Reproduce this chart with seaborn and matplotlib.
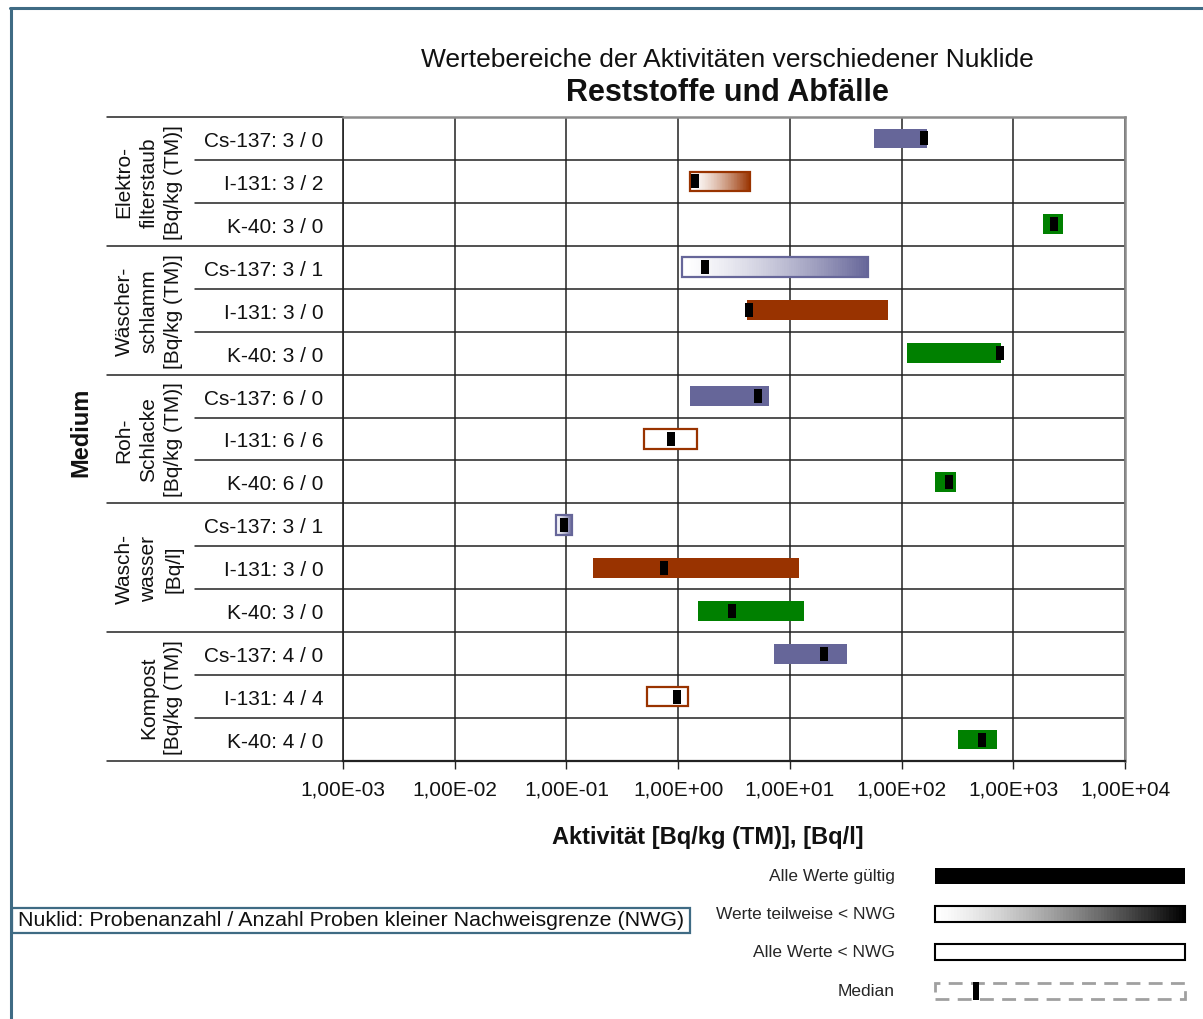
import numpy as np
import pandas as pd
import matplotlib
matplotlib.use("Agg")
import matplotlib.pyplot as plt
from matplotlib.patches import Rectangle
from matplotlib.lines import Line2D
from matplotlib.colors import to_rgb
import seaborn as sns


# --- data (values in Bq/kg (TM) or Bq/l) ---
groups = [
    "Elektro-\nfilterstaub\n[Bq/kg (TM)]",
    "Wäscher-\nschlamm\n[Bq/kg (TM)]",
    "Roh-\nSchlacke\n[Bq/kg (TM)]",
    "Wasch-\nwasser\n[Bq/l]",
    "Kompost\n[Bq/kg (TM)]",
]
nuclides = ["Cs-137", "I-131", "K-40"]
n_samples = [3, 3, 3, 3, 3, 3, 6, 6, 6, 3, 3, 3, 4, 4, 4]
n_below = [0, 2, 0, 1, 0, 0, 0, 6, 0, 1, 0, 0, 0, 4, 0]
val_min = [57, 1.29, 1850, 1.08, 4.1, 111, 1.29, 0.49, 200, 0.080, 0.172, 1.51, 7.2, 0.53, 321]
val_max = [168, 4.4, 2790, 50, 76, 782, 6.56, 1.48, 310, 0.112, 12.0, 13.4, 32.7, 1.23, 721]
val_median = [160, 1.42, 2320, 1.75, 4.3, 762, 5.2, 0.86, 265, 0.095, 0.75, 3.05, 20.4, 0.98, 526]
x_ticks = [1e-3, 1e-2, 1e-1, 1e0, 1e1, 1e2, 1e3, 1e4]

nuclide_colors = {"Cs-137": "#666699", "I-131": "#993300", "K-40": "#008000"}

legend_labels = ["Alle Werte gültig", "Werte teilweise < NWG", "Alle Werte < NWG", "Median"]

W, H = 1203, 1020


def px(x, y):
    """pixel position (from top-left) -> figure fraction"""
    return x / W, 1 - y / H


def build_table():
    rows = []
    for i in range(len(n_samples)):
        nuc = nuclides[i % 3]
        rows.append({
            "row": i,
            "nuclide": nuc,
            "label": f"{nuc}: {n_samples[i]} / {n_below[i]}",
            "lo": val_min[i],
            "hi": val_max[i],
            "median": val_median[i],
            "state": "full" if n_below[i] == 0 else ("none" if n_below[i] == n_samples[i] else "partial"),
        })
    return pd.DataFrame(rows)


def gradient_bar(ax, y, lo, hi, color, height, n=80):
    edges = np.geomspace(lo, hi, n + 1)
    rgb = np.array(to_rgb(color))
    for k in range(n):
        frac = ((k + 0.5) / n) ** 1.4
        c = (1 - frac) * np.ones(3) + frac * rgb
        ax.barh(y, edges[k + 1] - edges[k], left=edges[k], height=height,
                color=c, linewidth=0, zorder=2)


def draw_bars(ax, df, height=0.46):
    for _, r in df.iterrows():
        col = nuclide_colors[r["nuclide"]]
        if r["state"] == "full":
            ax.barh(r["row"], r["hi"] - r["lo"], left=r["lo"], height=height,
                    color=col, linewidth=0, zorder=2)
        else:
            if r["state"] == "partial":
                gradient_bar(ax, r["row"], r["lo"], r["hi"], col, height)
            else:
                ax.barh(r["row"], r["hi"] - r["lo"], left=r["lo"], height=height,
                        color="white", linewidth=0, zorder=2)
            ax.barh(r["row"], r["hi"] - r["lo"], left=r["lo"], height=height,
                    fill=False, edgecolor=col, linewidth=1.6, zorder=3)


def draw_table(ax):
    tr = ax.get_yaxis_transform()
    n = len(n_samples)
    for b in np.arange(-0.5, n, 1.0):
        is_group = (b + 0.5) % 3 == 0
        x0 = -0.302 if is_group else -0.189
        ax.add_line(Line2D([x0, 0], [b, b], transform=tr, color="#222222",
                           lw=1.1, clip_on=False))
    for g, name in enumerate(groups):
        ax.text(-0.2046, 3 * g + 1, name, transform=tr, rotation=90,
                ha="right", va="center", multialignment="center",
                fontsize=15, linespacing=1.38, color="#111111")


def draw_legend(fig):
    x0, x1 = 935, 1185
    ys = [877, 915, 953, 992]
    for lab, y in zip(legend_labels, ys):
        fig.text(*px(895, y), lab, ha="right", va="center", fontsize=12.5)
    hb = 16
    # all valid
    fig.add_artist(Rectangle(px(x0, ys[0] + hb / 2), (x1 - x0) / W, hb / H,
                             transform=fig.transFigure, color="black", lw=0))
    # partially below detection limit
    n = 80
    for k in range(n):
        frac = ((k + 0.5) / n) ** 1.3
        xa = x0 + (x1 - x0) * k / n
        fig.add_artist(Rectangle(px(xa, ys[1] + hb / 2), (x1 - x0) / n / W + 0.0004, hb / H,
                                 transform=fig.transFigure, color=str(1 - frac), lw=0))
    fig.add_artist(Rectangle(px(x0, ys[1] + hb / 2), (x1 - x0) / W, hb / H,
                             transform=fig.transFigure, fill=False, ec="black", lw=1.5))
    # all below detection limit
    fig.add_artist(Rectangle(px(x0, ys[2] + hb / 2), (x1 - x0) / W, hb / H,
                             transform=fig.transFigure, fc="white", ec="black", lw=1.5))
    # median
    fig.add_artist(Rectangle(px(x0, ys[3] + hb / 2), (x1 - x0) / W, hb / H,
                             transform=fig.transFigure, fill=False, ec="#a0a0a0",
                             lw=2, ls=(0, (5, 3))))
    fig.add_artist(Rectangle(px(973, ys[3] + 9), 6 / W, 18 / H,
                             transform=fig.transFigure, color="black", lw=0))


def main():
    sns.set_theme(style="white")
    plt.rcParams["font.family"] = ["Liberation Sans", "DejaVu Sans"]

    df = build_table()

    fig = plt.figure(figsize=(W / 100, H / 100), dpi=100)
    l, b = px(343, 762)
    r, t = px(1125, 118)
    ax = fig.add_axes([l, b, r - l, t - b])

    ax.set_xscale("log")
    ax.set_xlim(x_ticks[0], x_ticks[-1])
    ax.set_ylim(len(n_samples) - 0.5, -0.5)
    ax.set_axisbelow(True)

    draw_bars(ax, df)

    # median markers
    rect_marker = [(-1, -2), (1, -2), (1, 2), (-1, 2), (-1, -2)]
    sns.scatterplot(data=df, x="median", y="row", ax=ax, marker=rect_marker,
                    s=115, color="black", linewidth=0, zorder=4, legend=False)

    ax.set_xticks(x_ticks)
    ax.set_xticklabels([f"{v:.2E}".replace(".", ",") for v in x_ticks])
    ax.xaxis.set_minor_locator(plt.NullLocator())
    ax.set_yticks(df["row"])
    ax.set_yticklabels(df["label"])
    ax.set_yticks(np.arange(-0.5, len(n_samples), 1.0), minor=True)
    ax.tick_params(axis="x", which="major", length=6, width=1, color="#222222",
                   direction="out", bottom=True, labelsize=15, pad=7.5, labelcolor="#111111")
    ax.tick_params(axis="y", which="both", length=0, labelsize=15, pad=14, labelcolor="#111111")
    ax.grid(True, axis="x", which="major", color="#222222", lw=1.1)
    ax.grid(True, axis="y", which="minor", color="#222222", lw=1.1)
    ax.set_xlabel("")
    ax.set_ylabel("")

    for side in ["top", "right"]:
        ax.spines[side].set_color("#8c8c8c")
        ax.spines[side].set_linewidth(1.8)
    ax.spines["left"].set_color("#222222")
    ax.spines["left"].set_linewidth(1.2)
    ax.spines["bottom"].set_color("#222222")
    ax.spines["bottom"].set_linewidth(1.6)

    draw_table(ax)

    # titles and axis labels
    fig.text(*px(727, 60), "Wertebereiche der Aktivitäten verschiedener Nuklide",
             ha="center", va="center", fontsize=19, color="#111111")
    fig.text(*px(727, 93), "Reststoffe und Abfälle", ha="center", va="center",
             fontsize=22, fontweight="bold", color="#111111")
    fig.text(*px(708, 838), "Aktivität [Bq/kg (TM)], [Bq/l]", ha="center", va="center",
             fontsize=17, fontweight="bold", color="#111111")
    fig.text(*px(81, 432), "Medium", rotation=90, ha="center", va="center",
             fontsize=17, fontweight="bold", color="#111111")

    # note box
    fig.add_artist(Rectangle(px(12, 934), (690 - 12) / W, 25 / H,
                             transform=fig.transFigure, fill=False, ec="#3f6b84", lw=1.6))
    fig.text(*px(18, 921), "Nuklid: Probenanzahl / Anzahl Proben kleiner Nachweisgrenze (NWG)",
             ha="left", va="center", fontsize=15.4, color="#111111")

    draw_legend(fig)

    # outer frame (left and top edges)
    frame = "#3f6b84"
    fig.add_artist(Line2D([10.5 / W, 10.5 / W], [0, 1 - 9 / H], transform=fig.transFigure,
                          color=frame, lw=2.2))
    fig.add_artist(Line2D([10 / W, 1], [1 - 9 / H, 1 - 9 / H], transform=fig.transFigure,
                          color=frame, lw=2.2))

    fig.savefig("out.png", dpi=100)


if __name__ == "__main__":
    main()
